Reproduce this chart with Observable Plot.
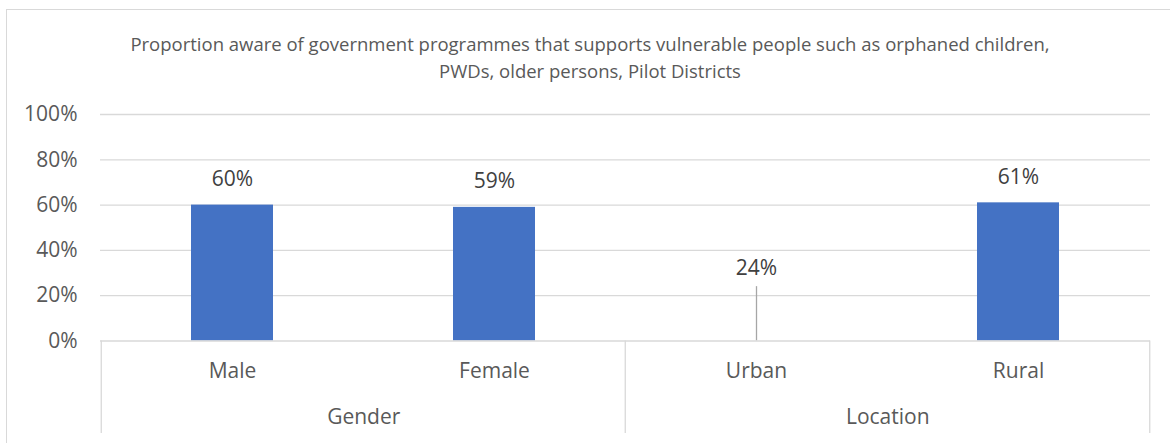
<!DOCTYPE html>
<html>
<head>
<meta charset="utf-8">
<script src="https://cdn.jsdelivr.net/npm/d3@7"></script>
<script src="https://cdn.jsdelivr.net/npm/@observablehq/plot@0.6"></script>
<style>
  html, body { margin: 0; padding: 0; background: #fff; }
  body { width: 1170px; height: 443px; overflow: hidden; position: relative; font-family: "Open Sans", sans-serif; }
  #frame { position: absolute; left: 6px; top: 9px; width: 1190px; height: 460px; border: 1.3px solid #d9d9d9; box-sizing: border-box; }
  #title { position: absolute; left: 0; top: 30px; width: 1180px; text-align: center; font-size: 18.5px; line-height: 27px; color: #595959; }
  #chart { position: absolute; left: 0; top: 100px; }
  #chart svg { overflow: visible; }
</style>
</head>
<body>
<div id="frame"></div>
<div id="title">Proportion aware of government programmes that supports vulnerable people such as orphaned children,<br>PWDs, older persons, Pilot Districts</div>
<div id="chart"></div>
<script>
const categories = ["Male", "Female", "Urban", "Rural"];
const groups = ["Gender", "Gender", "Location", "Location"];
const values = [0.60, 0.59, 0.24, 0.61];
const groupNames = ["Gender", "Location"];
const yTicks = [0, 0.2, 0.4, 0.6, 0.8, 1.0];
const hollowCategories = ["Urban"];

const data = categories.map((c, i) => ({category: c, group: groups[i], value: values[i]}));
const filled = data.filter(d => !hollowCategories.includes(d.category));
const hollow = data.filter(d => hollowCategories.includes(d.category));

const width = 1170, height = 343;
const marginLeft = 100, marginRight = 20, marginTop = 14, marginBottom = 102.5;
const step = (width - marginLeft - marginRight) / categories.length;
const plotH = height - marginTop - marginBottom;

const groupFirst = groupNames.map(g => ({group: g, first: categories[groups.indexOf(g)], n: groups.filter(x => x === g).length}));
const groupStarts = groupNames.map(g => categories[groups.indexOf(g)]);
const lastCat = categories[categories.length - 1];

const textColor = "#595959";
const gridColor = "#d9d9d9";
const fs = 21;
const pct = d3.format(".0%");

const chart = Plot.plot({
  width, height, marginLeft, marginRight, marginTop, marginBottom,
  style: {fontFamily: "Open Sans, sans-serif", fontSize: fs + "px", color: textColor, background: "transparent", overflow: "visible"},
  x: {type: "band", domain: categories, paddingInner: 0.688, paddingOuter: 0.344, axis: null},
  y: {domain: [0, 1], axis: null},
  marks: [
    Plot.ruleY(yTicks.filter(t => t > 0), {stroke: gridColor, strokeWidth: 1.3}),
    Plot.barY(filled, {x: "category", y: "value", fill: "#4472C4"}),
    Plot.ruleX(hollow, {x: "category", y1: 0, y2: "value", stroke: "#a6a6a6", strokeWidth: 1.3}),
    Plot.ruleY([0], {stroke: gridColor, strokeWidth: 1.3}),
    // y tick labels
    Plot.text(yTicks, {y: d => d, text: d => pct(d), frameAnchor: "left", textAnchor: "end", dx: -23, fill: textColor, fontSize: fs}),
    // value labels
    Plot.text(filled, {x: "category", y: "value", text: d => pct(d.value), dy: -26, fill: "#404040", fontSize: fs}),
    Plot.text(hollow, {x: "category", y: "value", text: d => pct(d.value), dy: -18, fill: "#404040", fontSize: fs}),
    // category labels
    Plot.text(data, {x: "category", text: "category", frameAnchor: "bottom", dy: 36.5, fill: textColor, fontSize: fs}),
    // group labels
    ...groupFirst.map(g => Plot.text([g], {x: d => d.first, text: d => d.group, frameAnchor: "bottom", dy: 82.5, dx: step * (g.n - 1) / 2, fill: textColor, fontSize: fs})),
    // separators under the category axis
    Plot.ruleX(groupStarts, {x: d => d, dx: -step / 2, insetTop: plotH, insetBottom: -92.5, stroke: gridColor, strokeWidth: 1.3}),
    Plot.ruleX([lastCat], {x: d => d, dx: step / 2, insetTop: plotH, insetBottom: -92.5, stroke: gridColor, strokeWidth: 1.3})
  ]
});
document.getElementById("chart").appendChild(chart);
</script>
</body>
</html>
